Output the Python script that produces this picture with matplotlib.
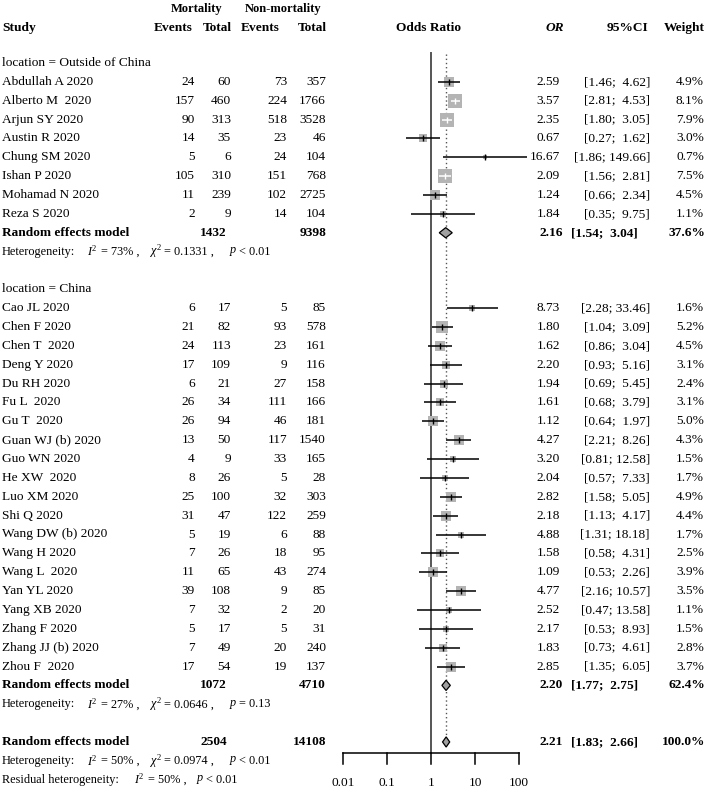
import numpy as np
import matplotlib
matplotlib.use("Agg")
import matplotlib.pyplot as plt

plt.rcParams['font.family'] = ['Liberation Serif', 'DejaVu Serif']
plt.rcParams['mathtext.fontset'] = 'custom'
plt.rcParams['mathtext.rm'] = 'Liberation Serif'
plt.rcParams['mathtext.it'] = 'Liberation Serif:italic'
plt.rcParams['mathtext.bf'] = 'Liberation Serif:bold'

# ---- data ----
out_names = ["Abdullah A 2020", "Alberto M  2020", "Arjun SY 2020", "Austin R 2020",
             "Chung SM 2020", "Ishan P 2020", "Mohamad N 2020", "Reza S 2020"]
out_ev_m = [24, 157, 90, 14, 5, 105, 11, 2]
out_tot_m = [60, 460, 313, 35, 6, 310, 239, 9]
out_ev_n = [73, 224, 518, 23, 24, 151, 102, 14]
out_tot_n = [357, 1766, 3528, 46, 104, 768, 2725, 104]
out_or = [2.59, 3.57, 2.35, 0.67, 16.67, 2.09, 1.24, 1.84]
out_lo = [1.46, 2.81, 1.80, 0.27, 1.86, 1.56, 0.66, 0.35]
out_hi = [4.62, 4.53, 3.05, 1.62, 149.66, 2.81, 2.34, 9.75]
out_w = [4.9, 8.1, 7.9, 3.0, 0.7, 7.5, 4.5, 1.1]

chn_names = ["Cao JL 2020", "Chen F 2020", "Chen T  2020", "Deng Y 2020", "Du RH 2020",
             "Fu L  2020", "Gu T  2020", "Guan WJ (b) 2020", "Guo WN 2020", "He XW  2020",
             "Luo XM 2020", "Shi Q 2020", "Wang DW (b) 2020", "Wang H 2020", "Wang L  2020",
             "Yan YL 2020", "Yang XB 2020", "Zhang F 2020", "Zhang JJ (b) 2020", "Zhou F  2020"]
chn_ev_m = [6, 21, 24, 17, 6, 26, 26, 13, 4, 8, 25, 31, 5, 7, 11, 39, 7, 5, 7, 17]
chn_tot_m = [17, 82, 113, 109, 21, 34, 94, 50, 9, 26, 100, 47, 19, 26, 65, 108, 32, 17, 49, 54]
chn_ev_n = [5, 93, 23, 9, 27, 111, 46, 117, 33, 5, 32, 122, 6, 18, 43, 9, 2, 5, 20, 19]
chn_tot_n = [85, 578, 161, 116, 158, 166, 181, 1540, 165, 28, 303, 259, 88, 95, 274, 85, 20, 31, 240, 137]
chn_or = [8.73, 1.80, 1.62, 2.20, 1.94, 1.61, 1.12, 4.27, 3.20, 2.04, 2.82, 2.18, 4.88, 1.58,
          1.09, 4.77, 2.52, 2.17, 1.83, 2.85]
chn_lo = [2.28, 1.04, 0.86, 0.93, 0.69, 0.68, 0.64, 2.21, 0.81, 0.57, 1.58, 1.13, 1.31, 0.58,
          0.53, 2.16, 0.47, 0.53, 0.73, 1.35]
chn_hi = [33.46, 3.09, 3.04, 5.16, 5.45, 3.79, 1.97, 8.26, 12.58, 7.33, 5.05, 4.17, 18.18, 4.31,
          2.26, 10.57, 13.58, 8.93, 4.61, 6.05]
chn_w = [1.6, 5.2, 4.5, 3.1, 2.4, 3.1, 5.0, 4.3, 1.5, 1.7, 4.9, 4.4, 1.7, 2.5, 3.9, 3.5, 1.1,
         1.5, 2.8, 3.7]

# pooled: [total mortality, total non-mortality, OR, lo, hi, weight]
re_out = [1432, 9398, 2.16, 1.54, 3.04, "37.6%"]
re_chn = [1072, 4710, 2.20, 1.77, 2.75, "62.4%"]
re_all = [2504, 14108, 2.21, 1.83, 2.66, "100.0%"]
# heterogeneity: [I2, chi2, p]
het_out = ["73%", "0.1331", "< 0.01"]
het_chn = ["27%", "0.0646", "= 0.13"]
het_all = ["50%", "0.0974", "< 0.01"]
het_res = ["50%", "< 0.01"]
ticks = [0.01, 0.1, 1, 10, 100]
tick_labels = ["0.01", "0.1", "1", "10", "100"]

# ---- layout ----
W, H = 707, 792
y0, dy = 63, 18.86        # pixel y of row 0 and row spacing
fs = 9.6
fs_small = 8.8

fig = plt.figure(figsize=(W / 100, H / 100), dpi=100)
ylim = ((H - y0) / dy, -y0 / dy)

tx = fig.add_axes([0, 0, 1, 1])
tx.set_xlim(0, W)
tx.set_ylim(*ylim)
tx.axis('off')

fx_left, fx_right, x_one, px_dec = 300, 560, 431, 44.0
fx = fig.add_axes([fx_left / W, 0, (fx_right - fx_left) / W, 1])
fx.set_xscale('log')
fx.set_xlim(10 ** ((fx_left - x_one) / px_dec), 10 ** ((fx_right - x_one) / px_dec))
fx.set_ylim(*ylim)
fx.axis('off')

col_em, col_tm, col_en, col_tn = 195, 231, 287, 326
col_or, col_ci, col_w = 560, 650, 704


def txt(x, r, s, ha='right', bold=False, size=fs, **kw):
    tx.text(x, r, s, ha=ha, va='center', fontsize=size,
            fontweight='bold' if bold else 'normal', **kw)


def small(x, r, s):
    txt(x, r, s, ha='left', size=fs_small)


def ci_str(lo, hi):
    return "[%.2f; %5.2f]" % (lo, hi)


# headers
txt(197, -2.85, "Mortality", ha='center', bold=True, size=fs - 0.6)
txt(283, -2.85, "Non-mortality", ha='center', bold=True, size=fs - 0.6)
txt(2, -1.85, "Study", ha='left', bold=True)
txt(193, -1.85, "Events", bold=True)
txt(232, -1.85, "Total", bold=True)
txt(280, -1.85, "Events", bold=True)
txt(327, -1.85, "Total", bold=True)
txt(428, -1.85, "Odds Ratio", ha='center', bold=True)
txt(564, -1.85, "OR", bold=True, style='italic')
txt(648, -1.85, "95%CI", bold=True)
txt(705, -1.85, "Weight", bold=True)

box_col = '#b4b4b4'


def study_rows(start, names, em, tm, en, tn, ors, los, his, ws):
    for i, name in enumerate(names):
        r = start + i
        txt(2, r, name, ha='left')
        txt(col_em, r, str(em[i]))
        txt(col_tm, r, str(tm[i]))
        txt(col_en, r, str(en[i]))
        txt(col_tn, r, str(tn[i]))
        txt(col_or, r, "%.2f" % ors[i])
        txt(col_ci, r, ci_str(los[i], his[i]))
        txt(col_w, r, "%.1f%%" % ws[i])
        side = 4.9 * np.sqrt(ws[i])
        half = side / 2 / px_dec
        inside = (np.log10(his[i]) - np.log10(ors[i]) < half and
                  np.log10(ors[i]) - np.log10(los[i]) < half)
        lc = 'white' if inside else 'black'
        fx.plot([ors[i]], [r], marker='s', markersize=side * 0.72, color=box_col,
                markeredgewidth=0, zorder=3)
        fx.plot([los[i], his[i]], [r, r], color=lc, lw=1.1, zorder=4,
                solid_capstyle='butt', clip_on=False)
        fx.plot([ors[i]], [r], marker='|', markersize=4, color=lc,
                markeredgewidth=1.0, zorder=5)


def pooled_row(r, vals, ci_right=638):
    txt(2, r, "Random effects model", ha='left', bold=True)
    txt(227, r, str(vals[0]), bold=True)
    txt(326, r, str(vals[1]), bold=True)
    txt(col_or + 3, r, "%.2f" % vals[2], bold=True)
    txt(ci_right, r, "[%.2f;  %.2f]" % (vals[3], vals[4]), bold=True)
    txt(col_w + 1, r, vals[5], bold=True)
    lx = [vals[3], vals[2], vals[4], vals[2]]
    ly = [r, r - 0.27, r, r + 0.27]
    fx.fill(lx, ly, facecolor='#a0a0a0', edgecolor='black', lw=0.9, zorder=4)


def het_row(r, h):
    small(2, r, "Heterogeneity:")
    small(87, r, r"$I^2$")
    small(101, r, "= " + h[0] + " ,")
    small(150, r, r"$\chi^2$")
    small(164, r, "= " + h[1] + " ,")
    small(229, r, r"$p$")
    small(239, r, h[2])


txt(2, 0, "location = Outside of China", ha='left')
study_rows(1, out_names, out_ev_m, out_tot_m, out_ev_n, out_tot_n, out_or, out_lo, out_hi, out_w)
pooled_row(9, re_out)
het_row(10, het_out)

txt(2, 12, "location = China", ha='left')
study_rows(13, chn_names, chn_ev_m, chn_tot_m, chn_ev_n, chn_tot_n, chn_or, chn_lo, chn_hi, chn_w)
pooled_row(33, re_chn)
het_row(34, het_chn)

pooled_row(36, re_all)
het_row(37, het_all)
small(2, 38, "Residual heterogeneity:")
small(134, 38, r"$I^2$")
small(148, 38, "= " + het_res[0] + " ,")
small(196, 38, r"$p$")
small(206, 38, het_res[1])

# reference lines
ax_row = (753 - y0) / dy
tick_end = (764 - y0) / dy
fx.plot([1, 1], [-0.55, ax_row], color='#555555', lw=1.4, zorder=2)
fx.plot([re_all[2], re_all[2]], [-0.5, 35.65], color='#555555', lw=1.0,
        ls=(0, (1, 2)), zorder=1)

# x axis drawn by hand from the tick list
fx.plot([ticks[0], ticks[-1]], [ax_row, ax_row], color='black', lw=1.1, clip_on=False)
for t, lab in zip(ticks, tick_labels):
    fx.plot([t, t], [ax_row, tick_end], color='black', lw=1.1, clip_on=False)
    fx.text(t, (783 - y0) / dy, lab, ha='center', va='center', fontsize=fs)

fig.savefig("out.png", dpi=100)
